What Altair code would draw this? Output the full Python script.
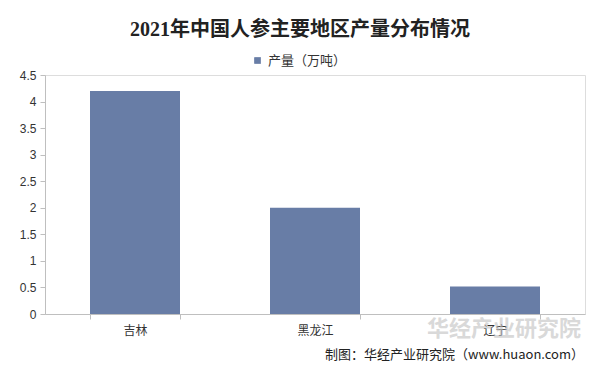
import altair as alt
import pandas as pd

regions = ["吉林", "黑龙江", "辽宁"]
output = [4.2, 2.0, 0.52]
series_name = "产量（万吨）"
y_ticks = [0, 0.5, 1, 1.5, 2, 2.5, 3, 3.5, 4, 4.5]

df = pd.DataFrame({"地区": regions, "产量": output, "系列": [series_name] * len(regions)})

W, H = 540, 239

bars = alt.Chart(df).mark_bar(color="#687DA6").encode(
    x=alt.X("地区:N", sort=regions, title=None,
            scale=alt.Scale(paddingInner=0.5, paddingOuter=0.25),
            axis=alt.Axis(labelAngle=0, labelFontSize=12, labelColor="#333333",
                          labelFont="Noto Sans CJK SC", domainColor="#BFBFBF",
                          tickColor="#BFBFBF", tickBand="extent", tickSize=5,
                          labelPadding=6)),
    y=alt.Y("产量:Q", title=None,
            scale=alt.Scale(domain=[0, 4.5], nice=False),
            axis=alt.Axis(values=y_ticks, grid=False, labelFontSize=12, format=".1~f",
                          labelColor="#333333", labelFont="Liberation Sans",
                          domainColor="#BFBFBF", tickColor="#BFBFBF", tickSize=5,
                          labelPadding=4)),
    fill=alt.Fill("系列:N", scale=alt.Scale(range=["#687DA6"]),
                  legend=alt.Legend(title=None, orient="none", legendX=206, legendY=-21,
                                    symbolType="square", symbolSize=45,
                                    labelFontSize=13, labelFont="Noto Sans CJK SC",
                                    labelColor="#333333")),
)

wm = alt.Chart(pd.DataFrame({"t": ["华经产业研究院"]})).mark_text(
    align="left", baseline="middle", fontSize=22, fontWeight="bold",
    font="Noto Sans CJK SC", color="#C0C0C0", opacity=0.6
).encode(text="t:N", x=alt.value(382), y=alt.value(254))

footer = alt.Chart(pd.DataFrame({"t": ["制图：华经产业研究院（www.huaon.com）"]})).mark_text(
    align="right", baseline="middle", fontSize=13,
    font="Noto Sans CJK SC", color="#222222"
).encode(text="t:N", x=alt.value(539), y=alt.value(280))

chart = alt.layer(bars, wm, footer).properties(
    width=W, height=H,
    autosize=alt.AutoSizeParams(type="none"),
    padding={"left": 37, "top": 67, "right": 7, "bottom": 53},
    title=alt.TitleParams("2021年中国人参主要地区产量分布情况",
                          font="Liberation Serif, Noto Sans CJK SC", fontSize=20,
                          fontWeight="bold", color="#222222", anchor="middle",
                          dx=-15, offset=14),
).configure_view(stroke=None).configure(background="white")

chart.save("out.html", embed_options={"renderer": "svg", "actions": False})
